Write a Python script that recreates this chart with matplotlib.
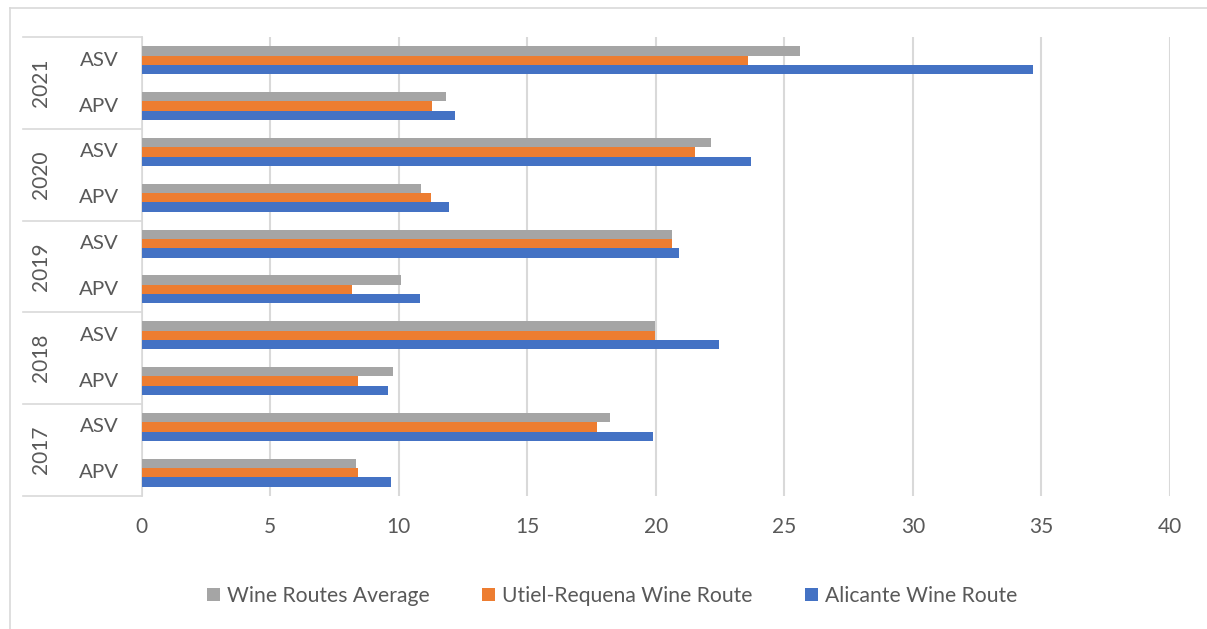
import matplotlib.pyplot as plt
from matplotlib.lines import Line2D
import numpy as np

plt.rcParams['font.family'] = ['Lato', 'DejaVu Sans']

# categories from bottom to top: (year, indicator)
years = ["2017", "2018", "2019", "2020", "2021"]
kinds = ["APV", "ASV"]

avg_routes = [8.32, 18.23, 9.76, 19.96, 10.08, 20.64, 10.87, 22.16, 11.83, 25.62]
utiel_requena = [8.40, 17.70, 8.42, 19.96, 8.20, 20.64, 11.27, 21.51, 11.29, 23.60]
alicante = [9.68, 19.88, 9.59, 22.46, 10.82, 20.92, 11.96, 23.72, 12.17, 34.67]

series_names = ["Wine Routes Average", "Utiel-Requena Wine Route", "Alicante Wine Route"]
colors = ["#A5A5A5", "#ED7D31", "#4472C4"]

grid_col = "#D9D9D9"
text_col = "#595959"

fig = plt.figure(figsize=(12.07, 6.29), dpi=100)
ax = fig.add_axes([0.1174, 0.2119, 0.8519, 0.7288])

y = np.arange(len(years) * len(kinds))
h = 0.203
for vals, off, col, name in zip([avg_routes, utiel_requena, alicante], [h, 0, -h], colors, series_names):
    ax.barh(y + off, vals, height=h, color=col, label=name, zorder=3)

ax.set_xlim(0, 40)
ax.set_ylim(-0.5, len(y) - 0.5)
ax.set_xticks(np.arange(0, 41, 5))
ax.tick_params(axis="x", length=0, pad=15, labelsize=15, labelcolor=text_col)
ax.set_yticks([])
ax.grid(axis="x", color=grid_col, linewidth=1.5, zorder=0)
for s in ["top", "right", "bottom"]:
    ax.spines[s].set_visible(False)
ax.spines["left"].set_color(grid_col)
ax.spines["left"].set_linewidth(1.2)

# two-level category labels on the left
tr = ax.get_yaxis_transform()
for i, yr in enumerate(years):
    for j, k in enumerate(kinds):
        ax.text(-0.0415, 2 * i + j, k, transform=tr, ha="center", va="center",
                fontsize=14.75, color=text_col)
    ax.text(-0.0979, 2 * i + 0.5, yr, transform=tr, ha="center", va="center",
            rotation=90, fontsize=15, color=text_col)
for b in np.arange(-0.5, len(y), 2):
    ax.plot([-0.1153, 0], [b, b], transform=tr, color=grid_col, linewidth=1.2, clip_on=False)

# outer chart frame
fig.add_artist(Line2D([10 / 1207, 10 / 1207], [0, 1 - 8 / 629], color=grid_col, linewidth=1.2))
fig.add_artist(Line2D([10 / 1207, 1], [1 - 8 / 629, 1 - 8 / 629], color=grid_col, linewidth=1.2))

fig.legend(loc="center", bbox_to_anchor=(0.507, 0.0525), ncol=3, frameon=False,
           fontsize=15.2, labelcolor=text_col, handlelength=0.63, handleheight=0.63,
           handletextpad=0.3, columnspacing=2.5)

plt.savefig("out.png", dpi=100)
